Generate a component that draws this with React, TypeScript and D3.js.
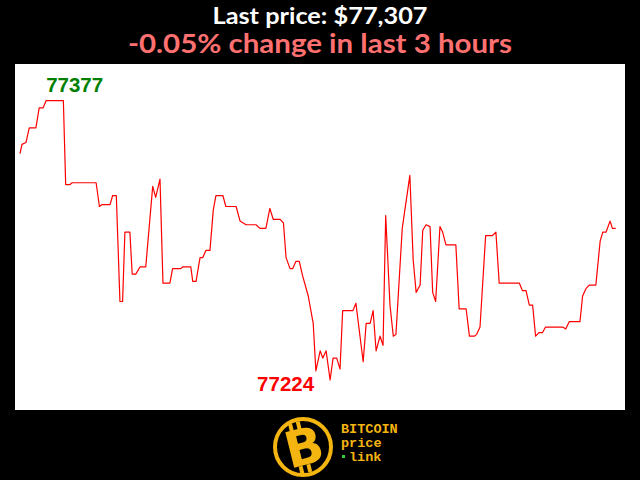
import React from "react";
import * as d3 from "d3";

// minutes since start of the 3-hour window
const minutes = [
  0, 0.6, 1.8, 2.8, 4.8, 5.8, 7.0, 7.9, 13.1, 13.8, 15.1, 15.8, 23.0, 24.0, 24.7, 27.2, 28.0, 29.1, 30.2, 31.0,
  31.7, 33.2, 33.9, 35.0, 36.3, 38.0, 40.1, 41.0, 42.3, 43.2, 45.3, 46.1, 48.6, 49.2, 51.6, 52.2, 53.2, 54.4, 55.2, 56.2,
  57.4, 58.4, 59.2, 61.3, 62.2, 65.3, 66.5, 68.3, 71.3, 72.5, 74.3, 75.5, 76.5, 78.6, 79.6, 80.4, 81.6, 82.4, 83.4, 84.4,
  85.4, 87.1, 87.8, 88.6, 89.4, 90.7, 91.5, 92.5, 93.7, 94.6, 95.7, 96.7, 97.5, 100.6, 101.5, 103.7, 104.6, 105.8, 106.7, 107.6,
  108.8, 109.7, 110.5, 111.8, 112.8, 113.6, 115.5, 117.8, 118.8, 119.7, 120.9, 121.7, 122.7, 123.9, 124.7, 125.6, 126.9, 127.7, 128.7, 131.7,
  132.7, 134.8, 135.8, 137.3, 138.0, 139.0, 140.7, 142.7, 143.8, 144.8, 150.9, 151.8, 152.9, 153.9, 154.9, 155.8, 156.8, 157.9, 158.8, 164.0,
  164.9, 166.0, 169.2, 170.0, 171.0, 172.0, 174.0, 175.3, 176.1, 177.1, 178.3, 179.0, 180.0,
];

const prices = [
  77348, 77353, 77354, 77362, 77362, 77373, 77373, 77377, 77377, 77331, 77331, 77332, 77332, 77319, 77320, 77320, 77325, 77325, 77267, 77267,
  77305, 77305, 77282, 77282, 77286, 77286, 77330, 77324, 77334, 77277, 77277, 77285, 77285, 77286, 77286, 77278, 77278, 77291, 77291, 77295,
  77295, 77317, 77325, 77325, 77319, 77319, 77311, 77309, 77309, 77307, 77307, 77318, 77312, 77312, 77310, 77291, 77285, 77285, 77289, 77289,
  77281, 77270, 77263, 77255, 77229, 77240, 77236, 77240, 77224, 77236, 77236, 77230, 77262, 77262, 77266, 77234, 77255, 77255, 77262, 77240,
  77248, 77243, 77314, 77265, 77248, 77249, 77307, 77336, 77290, 77272, 77276, 77306, 77309, 77308, 77272, 77267, 77308, 77305, 77298, 77298,
  77263, 77263, 77248, 77248, 77249, 77253, 77303, 77303, 77305, 77277, 77277, 77273, 77273, 77265, 77265, 77248, 77250, 77250, 77253, 77253,
  77252, 77256, 77256, 77270, 77274, 77276, 77276, 77300, 77305, 77305, 77311, 77307, 77307,
];

const titleText = "Last price: $77,307";
const subtitleText = "-0.05% change in last 3 hours";
const logoLines = ["BITCOIN", "price", "link"];

const W = 640;
const H = 480;
const PLOT = { left: 15, right: 625, top: 64, bottom: 410 };

export default function App() {
  const data = minutes.map((m, i) => ({ m, p: prices[i] }));
  const x = d3.scaleLinear().domain([0, 180]).range([20, 615.7]);
  const y = d3.scaleLinear().domain([77207.6, 77397]).range([PLOT.bottom, PLOT.top]);
  const line = d3
    .line<{ m: number; p: number }>()
    .x((d) => x(d.m))
    .y((d) => y(d.p));

  const maxP = d3.max(prices) as number;
  const minP = d3.min(prices) as number;
  const maxD = data[prices.indexOf(maxP)];
  const minD = data[prices.indexOf(minP)];

  const gold = "#f4b511";

  return (
    <svg
      width={W}
      height={H}
      style={{ position: "absolute", left: 0, top: 0, display: "block" }}
    >
      <rect x={0} y={0} width={W} height={H} fill="#000" />
      <text
        x={320}
        y={23.5}
        textAnchor="middle"
        fill="#fff"
        fontFamily="Lato, 'Open Sans', sans-serif"
        fontWeight="bold"
        fontSize={23.5}
        textLength={215}
        lengthAdjust="spacingAndGlyphs"
      >
        {titleText}
      </text>
      <text
        x={320}
        y={52.5}
        textAnchor="middle"
        fill="#ff7070"
        fontFamily="Lato, 'Open Sans', sans-serif"
        fontWeight="bold"
        fontSize={26}
        textLength={384}
        lengthAdjust="spacingAndGlyphs"
      >
        {subtitleText}
      </text>
      <rect
        x={PLOT.left}
        y={PLOT.top}
        width={PLOT.right - PLOT.left}
        height={PLOT.bottom - PLOT.top}
        fill="#fff"
      />
      <path d={line(data) || ""} fill="none" stroke="#ff0000" strokeWidth={1.2} strokeLinejoin="round" />
      <text
        x={x(maxD.m)}
        y={y(maxD.p) - 8.5}
        fill="#008000"
        fontFamily="'Liberation Sans', Arial, sans-serif"
        fontWeight="bold"
        fontSize={20.5}
      >
        {String(maxP)}
      </text>
      <text
        x={x(minD.m) - 16}
        y={y(minD.p) + 11}
        textAnchor="end"
        fill="#ff0000"
        fontFamily="'Liberation Sans', Arial, sans-serif"
        fontWeight="bold"
        fontSize={20.5}
      >
        {String(minP)}
      </text>

      {/* logo */}
      <g>
        <circle cx={303} cy={447} r={28} fill="#000" stroke={gold} strokeWidth={4} />
        <g transform="translate(303,447) rotate(-14)">
          <rect x={-9} y={-26} width={4} height={8} fill={gold} />
          <rect x={-1} y={-26} width={4} height={8} fill={gold} />
          <rect x={-9} y={18} width={4} height={8} fill={gold} />
          <rect x={-1} y={18} width={4} height={8} fill={gold} />
          <text
            x={1}
            y={18}
            textAnchor="middle"
            fill={gold}
            fontFamily="'DejaVu Sans', sans-serif"
            fontWeight="bold"
            fontSize={50}
          >
            B
          </text>
        </g>
        {logoLines.map((t, i) => (
          <text
            key={t}
            x={341}
            y={433 + i * 14}
            fill={gold}
            fontFamily="'Liberation Mono', 'DejaVu Sans Mono', monospace"
            fontWeight="bold"
            fontSize={13.5}
            dx={i === 2 ? 8 : 0}
          >
            {t}
          </text>
        ))}
        <rect x={342} y={455} width={3} height={3} fill="#2ecc40" />
      </g>
    </svg>
  );
}
